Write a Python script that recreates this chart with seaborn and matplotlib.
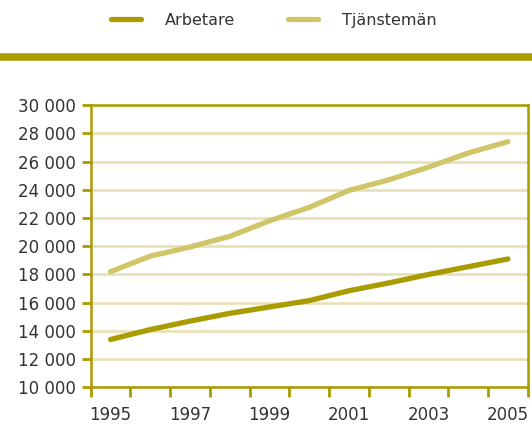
import pandas as pd
import numpy as np
import matplotlib
matplotlib.use("Agg")
import matplotlib.pyplot as plt
from matplotlib.lines import Line2D
from matplotlib.ticker import FuncFormatter, MultipleLocator
import seaborn as sns

years = [1995, 1996, 1997, 1998, 1999, 2000, 2001, 2002, 2003, 2004, 2005]
arbetare = [13400, 14100, 14700, 15250, 15700, 16150, 16850, 17400, 18000, 18550, 19100]
tjanstemän = [18200, 19300, 19950, 20700, 21800, 22750, 23950, 24700, 25600, 26600, 27400]
series_names = ["Arbetare", "Tjänstemän"]
year_labels = ["1995", "1997", "1999", "2001", "2003", "2005"]

gold = "#a99b00"
light = "#d1c56a"
grid_col = "#e9e2b9"
text_col = "#333333"

df = pd.DataFrame({
    "pos": list(range(len(years))) * 2,
    "value": arbetare + tjanstemän,
    "serie": [series_names[0]] * len(years) + [series_names[1]] * len(years),
})

sns.set_style("white")
plt.rcParams["font.family"] = ["DejaVu Sans"]

fig = plt.figure(figsize=(5.32, 4.26), dpi=100)
ax = fig.add_axes([0.1705, 0.0904, 0.992 - 0.1705, 0.7535 - 0.0904])

sns.lineplot(data=df, x="pos", y="value", hue="serie",
             palette={series_names[0]: gold, series_names[1]: light},
             linewidth=3.8, legend=False, ax=ax,
             solid_capstyle="round", zorder=3)

ax.set_xlim(-0.5, len(years) - 0.5)
ax.set_ylim(10000, 30000)
ax.yaxis.set_major_locator(MultipleLocator(2000))
ax.yaxis.set_major_formatter(FuncFormatter(lambda v, p: f"{int(v):,}".replace(",", " ")))

ax.set_xticks(range(0, len(years), 2))
ax.set_xticklabels(year_labels)
ax.set_xticks(np.arange(-0.5, len(years), 1.0), minor=True)
ax.tick_params(axis="x", which="major", bottom=True, length=0, pad=13.5,
               labelsize=12, labelcolor=text_col)
ax.tick_params(axis="x", which="minor", bottom=True, length=7.5, width=2,
               color=gold, direction="out")
ax.tick_params(axis="y", which="major", left=True, length=6.5, width=2, color=gold,
               direction="out", pad=4, labelsize=12, labelcolor=text_col)
ax.set_xlabel("")
ax.set_ylabel("")

ax.grid(axis="y", color=grid_col, linewidth=2)
ax.set_axisbelow(True)
for side in ["left", "bottom", "top", "right"]:
    ax.spines[side].set_visible(True)
    ax.spines[side].set_color(gold)
    ax.spines[side].set_linewidth(1.8)

# gold band across figure
fig.add_artist(Line2D([0, 1], [0.866, 0.866], color=gold, linewidth=5.4,
                      transform=fig.transFigure))

handles = [Line2D([], [], color=gold, linewidth=3.8, solid_capstyle="round"),
           Line2D([], [], color=light, linewidth=3.8, solid_capstyle="round")]
fig.legend(handles, series_names, loc="center", bbox_to_anchor=(0.515, 0.952),
           ncol=2, frameon=False, fontsize=11.5, labelcolor=text_col,
           handlelength=1.9, handletextpad=1.5, columnspacing=3.3)

fig.savefig("out.png", dpi=100)
